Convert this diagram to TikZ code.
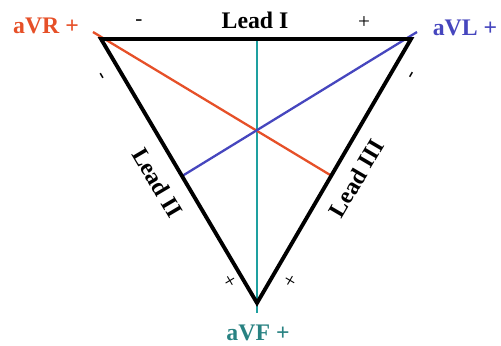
\documentclass[tikz,border=0pt]{standalone}
\usepackage{fontspec}
\setmainfont{Liberation Serif}
\definecolor{avrred}{RGB}{230,80,40}
\definecolor{avlblue}{RGB}{70,70,190}
\definecolor{avfteal}{RGB}{30,160,160}
\definecolor{avftext}{RGB}{40,130,130}
\begin{document}
\begin{tikzpicture}[
    lead/.style={line width=2.2pt, black},
    axis/.style={line width=1.3pt},
    lbl/.style={font=\fontsize{13.5}{16}\selectfont\bfseries, inner sep=1pt},
    sgn/.style={font=\fontsize{12}{14}\selectfont, inner sep=0pt}
]
    \useasboundingbox (0,0) rectangle (10,6.906);

    % Corners
    \coordinate (ra) at (2.016,6.128);
    \coordinate (la) at (8.204,6.128);
    \coordinate (ft) at (5.130,0.858);
    \coordinate (top) at (5.130,6.128);
    \coordinate (bot) at (5.130,0.659);
    \coordinate (rs) at (1.856,6.267);
    \coordinate (re) at (6.607,3.403);
    \coordinate (ls) at (8.323,6.267);
    \coordinate (le) at (3.653,3.403);

    % Augmented axes
    \draw[axis, avfteal, line width=1.6pt] (top) -- (bot);
    \draw[axis, avrred] (rs) -- (re);
    \draw[axis, avlblue] (ls) -- (le);

    % Triangle
    \draw[lead, line join=miter] (la) -- (ra) -- (ft) -- cycle;

    % Labels
    \node[lbl, avrred] (avr) at (0.918,6.387) {aVR +};
    \node[lbl, avlblue] (avl) at (9.281,6.347) {aVL +};
    \node[lbl, avftext] (avf) at (5.150,0.259) {aVF +};
    \node[lbl] (l1) at (5.090,6.507) {Lead I};
    \node[lbl, rotate=-59.4] (l2) at (3.148,3.262) {Lead II};
    \node[lbl, rotate=59.6] (l3) at (7.112,3.343) {Lead III};

    % Poles
    \node[sgn] (m1) at (2.774,6.447) {-};
    \node[sgn] (p1) at (7.265,6.447) {+};
    \node[sgn, rotate=-59.4] (m2) at (1.996,5.369) {-};
    \node[sgn, rotate=-59.4] (p2) at (4.571,1.277) {+};
    \node[sgn, rotate=59.6] (m3) at (8.244,5.389) {-};
    \node[sgn, rotate=59.6] (p3) at (5.808,1.297) {+};
\end{tikzpicture}
\end{document}
